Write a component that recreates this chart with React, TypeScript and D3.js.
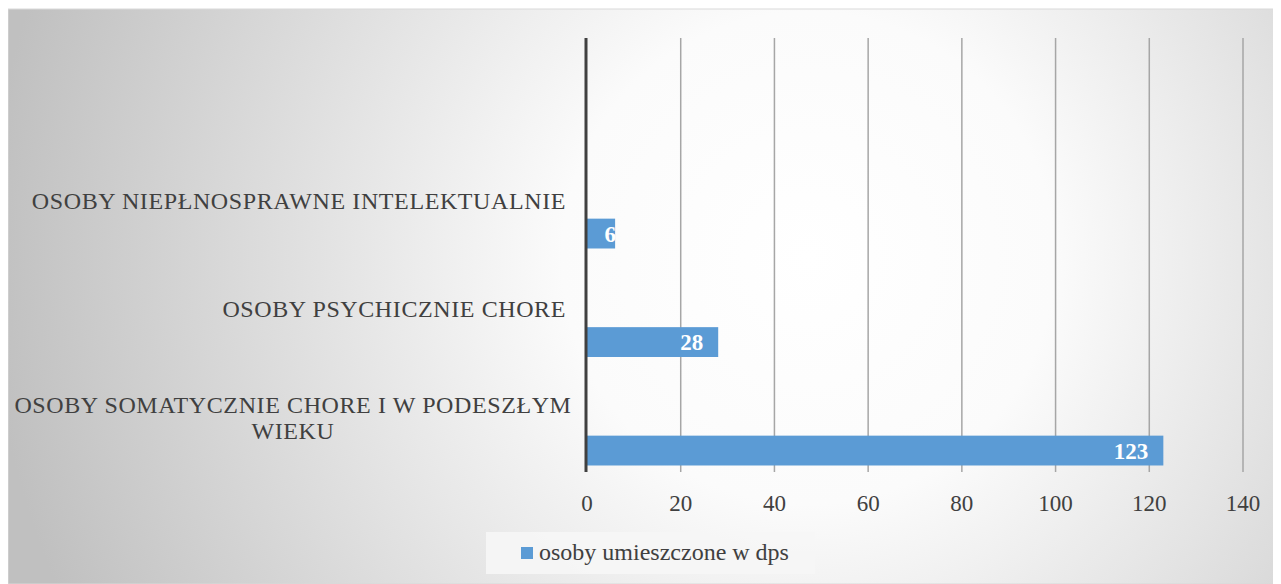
import React, { useEffect, useRef } from 'react';
import * as d3 from 'd3';

// categories, top to bottom (first slot is empty in the source chart)
const categories: string[] = [
    '',
    'OSOBY NIEPŁNOSPRAWNE INTELEKTUALNIE',
    'OSOBY PSYCHICZNIE CHORE',
    'OSOBY SOMATYCZNIE CHORE I W PODESZŁYM|WIEKU',
];
const values: (number | null)[] = [null, 6, 28, 123];
const xTicks: number[] = [0, 20, 40, 60, 80, 100, 120, 140];
const seriesName = 'osoby umieszczone w dps';

const W = 1273;
const H = 576;

const App: React.FC = () => {
    const svgRef = useRef<SVGSVGElement>(null);

    useEffect(() => {
        if (!svgRef.current) return;
        const svg = d3.select(svgRef.current);
        svg.selectAll('*').remove();

        const font = 'Liberation Serif, Times New Roman, serif';
        const plot = { left: 579, right: 1235, top: 30, bottom: 464 };

        const x = d3.scaleLinear().domain([0, 140]).range([plot.left, plot.right]);
        const y = d3.scaleBand<string>()
            .domain(categories.map((_, i) => String(i)))
            .range([plot.top, plot.bottom]);

        // background gradient
        const defs = svg.append('defs');
        const grad = defs.append('radialGradient')
            .attr('id', 'bg')
            .attr('gradientUnits', 'userSpaceOnUse')
            .attr('cx', 800).attr('cy', 250).attr('r', 820);
        grad.append('stop').attr('offset', '0%').attr('stop-color', '#ffffff');
        grad.append('stop').attr('offset', '30%').attr('stop-color', '#fbfbfb');
        grad.append('stop').attr('offset', '100%').attr('stop-color', '#c0c0c0');

        svg.append('rect')
            .attr('x', 0).attr('y', 1)
            .attr('width', W).attr('height', H - 1)
            .attr('fill', 'url(#bg)')
            .attr('stroke', '#d9d9d9')
            .attr('stroke-width', 1);

        const g = svg.append('g');

        // gridlines
        g.selectAll('.grid')
            .data(xTicks.slice(1))
            .enter()
            .append('line')
            .attr('x1', d => x(d)).attr('x2', d => x(d))
            .attr('y1', plot.top).attr('y2', plot.bottom)
            .attr('stroke', '#a6a6a6')
            .attr('stroke-width', 1.5);

        // tick labels
        g.selectAll('.tick-label')
            .data(xTicks)
            .enter()
            .append('text')
            .attr('x', d => x(d))
            .attr('y', 503)
            .attr('text-anchor', 'middle')
            .attr('font-family', font)
            .attr('font-size', 23)
            .attr('fill', '#404040')
            .text(d => d);

        // bars
        const bw = y.bandwidth();
        values.forEach((v, i) => {
            if (v == null) return;
            const y0 = (y(String(i)) as number) + bw * 0.665;
            const h = bw * 0.275;
            const len = x(v) - x(0);
            g.append('rect')
                .attr('x', x(0))
                .attr('y', y0)
                .attr('width', len)
                .attr('height', h)
                .attr('fill', '#5b9bd5');
            g.append('text')
                .attr('x', len < 40 ? x(v) + 1 : x(v) - 15)
                .attr('y', y0 + h / 2 + 8)
                .attr('text-anchor', 'end')
                .attr('font-family', font)
                .attr('font-weight', 'bold')
                .attr('font-size', 23)
                .attr('fill', '#ffffff')
                .text(v);
        });

        // category labels
        categories.forEach((c, i) => {
            if (!c) return;
            const lines = c.split('|');
            const cy = (y(String(i)) as number) + bw / 2;
            const lh = 26;
            const t = g.append('text')
                .attr('font-family', font)
                .attr('font-size', 24)
                .attr('letter-spacing', 0.6)
                .attr('fill', '#404040');
            lines.forEach((ln, k) => {
                t.append('tspan')
                    .attr('x', lines.length > 1 ? 285 : 558)
                    .attr('text-anchor', lines.length > 1 ? 'middle' : 'end')
                    .attr('y', cy + 8 + (k - (lines.length - 1) / 2) * lh)
                    .text(ln);
            });
        });

        // axis line
        g.append('line')
            .attr('x1', x(0) - 1).attr('x2', x(0) - 1)
            .attr('y1', plot.top).attr('y2', plot.bottom)
            .attr('stroke', '#404040')
            .attr('stroke-width', 3);

        // legend
        const lg = svg.append('g');
        lg.append('rect')
            .attr('x', 478).attr('y', 524)
            .attr('width', 329).attr('height', 42)
            .attr('fill', '#f6f6f6')
            .attr('opacity', 0.9);
        lg.append('rect')
            .attr('x', 513).attr('y', 539)
            .attr('width', 12).attr('height', 12)
            .attr('fill', '#5b9bd5');
        lg.append('text')
            .attr('x', 531).attr('y', 552)
            .attr('font-family', font)
            .attr('font-size', 24)
            .attr('fill', '#404040')
            .text(seriesName);
    }, []);

    return <svg ref={svgRef} width={W} height={H} style={{ display: 'block' }} />;
};

export default App;
